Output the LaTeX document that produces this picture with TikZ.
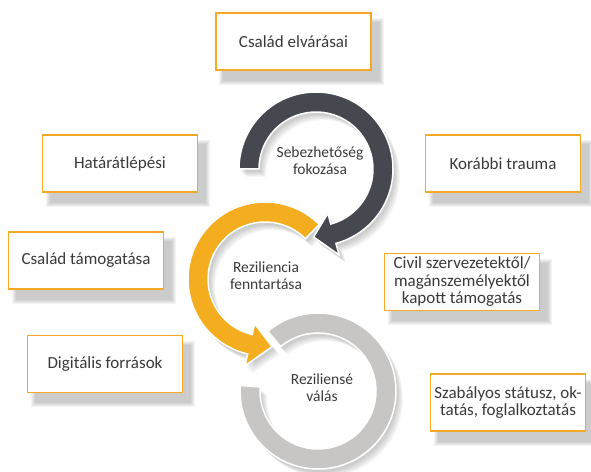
\documentclass[tikz,border=0pt]{standalone}
\usepackage{fontspec}
\setmainfont{Carlito}
\usepackage{tikz}
\usetikzlibrary{calc,backgrounds}
\definecolor{boxorange}{RGB}{247,169,38}
\definecolor{arcorange}{RGB}{244,173,30}
\definecolor{arcdark}{RGB}{69,72,79}
\definecolor{arcgray}{RGB}{200,198,196}
\definecolor{txtgray}{RGB}{58,58,60}
\tikzset{factor/.style={draw=boxorange, line width=1.4pt, fill=white, minimum width=155pt, minimum height=57pt, inner sep=2pt, align=center, text=txtgray, font=\fontsize{17}{17.5}\selectfont}}
\tikzset{stage/.style={align=center, text=txtgray, font=\fontsize{15.5}{17}\selectfont}}
\tikzset{ring/.style={draw=white, line width=1.5pt}}
% ring shapes, around (0,0)
\def\darkpath{(180:77) arc[start angle=180, end angle=-75, radius=77] -- (-75:89) -- (-92:68) -- (-75:46) -- (-75:57) arc[start angle=-75, end angle=180, radius=57] -- cycle}
\def\orangepath{(45:77) arc[start angle=45, end angle=257, radius=77] -- (257:89) -- (276:68) -- (257:46) -- (257:57) arc[start angle=257, end angle=45, radius=57] -- cycle}
\def\graypath{(176:78) arc[start angle=176, end angle=490, radius=78] -- (130:58) arc[start angle=130, end angle=-184, radius=58] -- cycle}

\begin{document}
\begin{tikzpicture}[x=1pt, y=1pt]
\useasboundingbox (0,0) rectangle (591,471);

%gray ring
\begin{scope}[shift={(318,80)}]
\foreach \s in {1,...,6} {\fill[black, opacity=.035, shift={(1+\s,-2-\s)}] \graypath;}
\filldraw[ring, fill=arcgray] \graypath;
\end{scope}
%orange arrow
\begin{scope}[shift={(265,192)}]
\foreach \s in {1,...,6} {\fill[black, opacity=.035, shift={(1+\s,-2-\s)}] \orangepath;}
\filldraw[ring, fill=arcorange] \orangepath;
\end{scope}
%dark arrow
\begin{scope}[shift={(316,302)}]
\foreach \s in {1,...,6} {\fill[black, opacity=.035, shift={(1+\s,-2-\s)}] \darkpath;}
\filldraw[ring, fill=arcdark] \darkpath;
\end{scope}

\node[stage] (seb) at (320,310) {Sebezhetőség\\fokozása};
\node[stage] (fen) at (266,195) {Reziliencia\\fenntartása};
\node[stage] (val) at (322,83) {Reziliensé\\válás};

%boxes
\node[factor] (elv) at (293.5,429.5) {Család elvárásai};
\node[factor] (hat) at (120,307.5) {Határátlépési};
\node[factor] (kor) at (503,307.5) {Korábbi trauma};
\node[factor] (tam) at (86,210.5) {Család támogatása};
\node[factor] (civ) at (462,189) {Civil szervezetektől/\\magánszemélyektől\\kapott támogatás};
\node[factor] (dig) at (105,107) {Digitális források};
\node[factor] (sza) at (508,68.5) {Szabályos státusz, ok-\\tatás, foglalkoztatás};

\begin{pgfonlayer}{background}
\foreach \n in {elv,hat,kor,tam,civ,dig,sza}
  \foreach \s in {0,...,4}
    {\fill[black, opacity=.045] ($(\n.south west)+(8-\s,-10-\s)$) rectangle ($(\n.north east)+(8+\s,-10+\s)$);}
\end{pgfonlayer}
\end{tikzpicture}
\end{document}
